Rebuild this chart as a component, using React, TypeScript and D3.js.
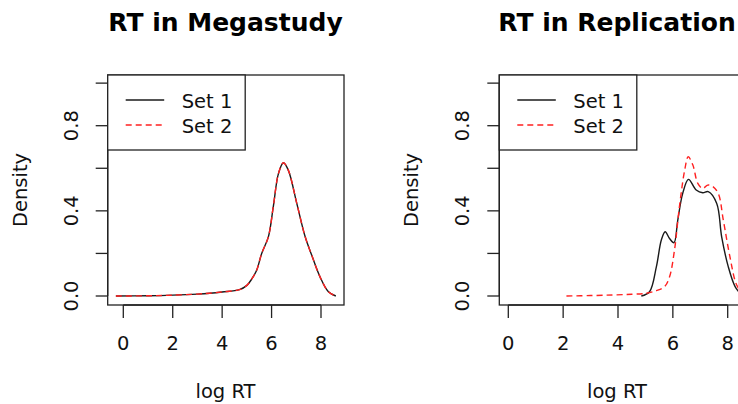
import React from "react";
import * as d3 from "d3";

// density estimates (log RT vs density)
const megaX = [-0.3, 1.0, 2.0, 3.0, 3.5, 4.0, 4.7, 5.0, 5.2, 5.4, 5.6, 5.87, 6.07, 6.28, 6.48, 6.68, 7.02, 7.36, 7.63, 7.96, 8.3, 8.6];
const megaY = [0, 0.001, 0.004, 0.009, 0.013, 0.019, 0.03, 0.05, 0.08, 0.122, 0.2, 0.278, 0.42, 0.576, 0.626, 0.59, 0.435, 0.278, 0.19, 0.09, 0.02, 0];

const rep1X = [4.85, 5.15, 5.4, 5.58, 5.72, 5.88, 6.04, 6.18, 6.36, 6.57, 6.85, 7.09, 7.29, 7.6, 7.78, 8.02, 8.27, 8.5];
const rep1Y = [0, 0.02, 0.138, 0.263, 0.302, 0.27, 0.25, 0.357, 0.482, 0.548, 0.498, 0.485, 0.49, 0.435, 0.278, 0.138, 0.044, 0.005];

const rep2X = [2.12, 3.0, 3.82, 4.5, 5.03, 5.4, 5.7, 5.88, 6.06, 6.24, 6.43, 6.56, 6.73, 6.91, 7.09, 7.27, 7.45, 7.66, 7.84, 8.08, 8.3, 8.5];
const rep2Y = [0, 0.002, 0.005, 0.008, 0.013, 0.025, 0.044, 0.09, 0.216, 0.42, 0.59, 0.654, 0.615, 0.529, 0.505, 0.521, 0.515, 0.48, 0.357, 0.185, 0.06, 0.015];

const xTicks = [0, 2, 4, 6, 8];
const yTicks = [0, 0.2, 0.4, 0.6, 0.8, 1.0];
const yLabels = [0, 0.4, 0.8];
const legendLabels = ["Set 1", "Set 2"];

const FONT = "DejaVu Sans, sans-serif";

type Series = { xs: number[]; ys: number[]; dashed: boolean };

type PanelProps = {
  id: string;
  title: string;
  titleX: number;
  left: number;
  right: number;
  x0px: number;
  x8px: number;
  series: Series[];
};

const top = 75;
const bottom = 305;
const y = d3.scaleLinear().domain([0, 0.8]).range([296, 125.7]);

function Panel({ id, title, titleX, left, right, x0px, x8px, series }: PanelProps) {
  const x = d3.scaleLinear().domain([0, 8]).range([x0px, x8px]);
  const line = d3
    .line<[number, number]>()
    .x((d) => x(d[0]))
    .y((d) => y(d[1]))
    .curve(d3.curveCatmullRom.alpha(0.5));
  const cy = (top + bottom) / 2;
  return (
    <g>
      <defs>
        <clipPath id={id}>
          <rect x={left} y={top} width={right - left} height={bottom - top} />
        </clipPath>
      </defs>
      <text x={titleX} y={31} textAnchor="middle" fontWeight="bold" fontSize={25} fontFamily={FONT}>
        {title}
      </text>
      {/* curves */}
      <g clipPath={`url(#${id})`}>
        {series.map((s, i) => (
          <path
            key={i}
            d={line(s.xs.map((v, j) => [v, s.ys[j]] as [number, number])) || ""}
            fill="none"
            stroke={s.dashed ? "#ff2020" : "#1a1a1a"}
            strokeWidth={1.4}
            strokeDasharray={s.dashed ? "6,4" : undefined}
          />
        ))}
      </g>
      {/* box */}
      <rect x={left} y={top} width={right - left} height={bottom - top} fill="none" stroke="#222" strokeWidth={1.3} />
      {/* y axis */}
      <line x1={left} x2={left} y1={y(0)} y2={y(1)} stroke="#222" strokeWidth={1.3} />
      {yTicks.map((t) => (
        <line key={t} x1={left - 12} x2={left} y1={y(t)} y2={y(t)} stroke="#222" strokeWidth={1.3} />
      ))}
      {yLabels.map((t) => (
        <text
          key={t}
          transform={`translate(${left - 30},${y(t)}) rotate(-90)`}
          textAnchor="middle"
          fontSize={19.5}
          fontFamily={FONT}
          fill="#111"
        >
          {t.toFixed(1)}
        </text>
      ))}
      <text
        transform={`translate(${left - 81},${cy}) rotate(-90)`}
        textAnchor="middle"
        fontSize={19.5}
        fontFamily={FONT}
        fill="#111"
      >
        Density
      </text>
      {/* x axis */}
      <line x1={x(0)} x2={x(8)} y1={bottom} y2={bottom} stroke="#222" strokeWidth={1.3} />
      {xTicks.map((t) => (
        <g key={t}>
          <line x1={x(t)} x2={x(t)} y1={bottom} y2={bottom + 13} stroke="#222" strokeWidth={1.3} />
          <text x={x(t)} y={350} textAnchor="middle" fontSize={19.5} fontFamily={FONT} fill="#111">
            {t}
          </text>
        </g>
      ))}
      <text x={titleX} y={398} textAnchor="middle" fontSize={19.5} fontFamily={FONT} fill="#111">
        log RT
      </text>
      {/* legend */}
      <rect x={left} y={top} width={137.5} height={75} fill="white" stroke="#222" strokeWidth={1.3} />
      {legendLabels.map((lab, i) => (
        <g key={lab}>
          <line
            x1={left + 18}
            x2={left + 56.5}
            y1={100 + i * 25}
            y2={100 + i * 25}
            stroke={i === 1 ? "#ff2020" : "#1a1a1a"}
            strokeWidth={1.4}
            strokeDasharray={i === 1 ? "6,4" : undefined}
          />
          <text x={left + 74} y={108 + i * 25} fontSize={19.5} fontFamily={FONT} fill="#111">
            {lab}
          </text>
        </g>
      ))}
    </g>
  );
}

export default function App() {
  return (
    <svg
      width={738}
      height={404}
      style={{ position: "absolute", left: 0, top: 0, background: "white" }}
    >
      <rect width={738} height={404} fill="white" />
      <Panel
        id="clipA"
        title="RT in Megastudy"
        titleX={225.5}
        left={107.7}
        right={344}
        x0px={123.3}
        x8px={321}
        series={[
          { xs: megaX, ys: megaY, dashed: false },
          { xs: megaX, ys: megaY, dashed: true },
        ]}
      />
      <Panel
        id="clipB"
        title="RT in Replication"
        titleX={617}
        left={499.3}
        right={745}
        x0px={508.3}
        x8px={727.7}
        series={[
          { xs: rep1X, ys: rep1Y, dashed: false },
          { xs: rep2X, ys: rep2Y, dashed: true },
        ]}
      />
    </svg>
  );
}
